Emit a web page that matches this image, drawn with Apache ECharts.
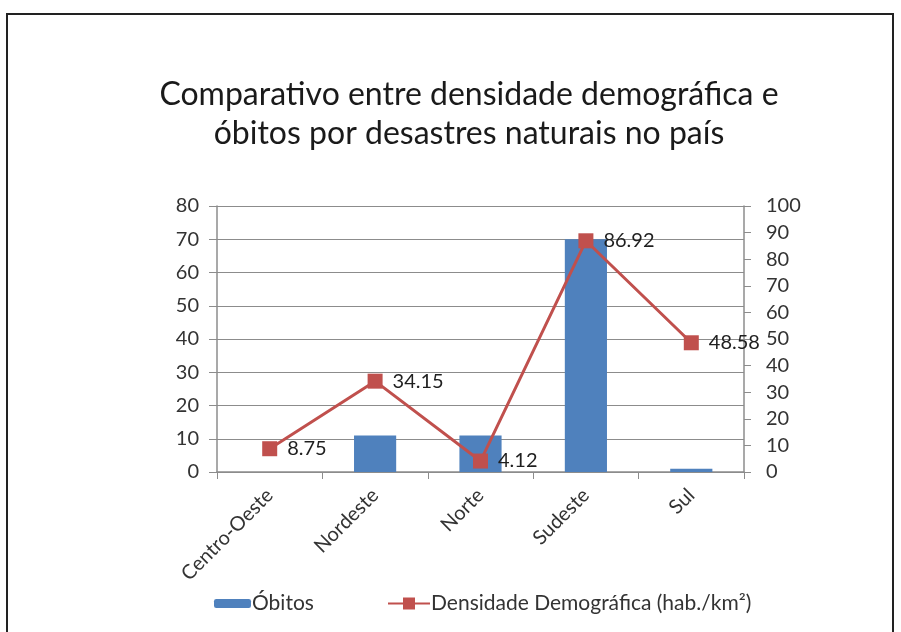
<!DOCTYPE html>
<html>
<head>
<meta charset="utf-8">
<script src="https://cdn.jsdelivr.net/npm/echarts@6/dist/echarts.min.js"></script>
<style>
  html, body { margin: 0; padding: 0; background: #fff; }
  #chart { width: 901px; height: 632px; }
</style>
</head>
<body>
<div id="chart"></div>
<script>
// Regions of the country
const regioes = ['Centro-Oeste', 'Nordeste', 'Norte', 'Sudeste', 'Sul'];
// Deaths from natural disasters per region
const obitos = [0, 11, 11, 70, 1];
// Population density (inhabitants per km²)
const densidade = [8.75, 34.15, 4.12, 86.92, 48.58];

const FONT = 'Lato, "Noto Sans", sans-serif';
const TXT = '#333333';
const GRID = '#8c8c8c';

const chart = echarts.init(document.getElementById('chart'));
chart.setOption({
  backgroundColor: '#ffffff',
  animation: false,
  textStyle: { fontFamily: FONT },
  title: {
    text: 'Comparativo entre densidade demográfica e\nóbitos por desastres naturais no país',
    left: 464,
    top: 70,
    textAlign: 'center',
    textStyle: { fontFamily: FONT, fontSize: 32, fontWeight: 'normal', color: '#1a1a1a', lineHeight: 39 }
  },
  graphic: [{
    type: 'rect',
    shape: { x: 7, y: 14, width: 886, height: 640 },
    style: { fill: 'none', stroke: '#222', lineWidth: 2 }
  }],
  legend: [{
    data: ['Óbitos'],
    left: 214, top: 593, padding: 0,
    itemWidth: 37, itemHeight: 9,
    textStyle: { fontFamily: FONT, fontSize: 21, color: TXT, padding: [0, 0, 0, -4] }
  }, {
    data: ['Densidade Demográfica (hab./km²)'],
    left: 387, top: 593, padding: 0,
    itemWidth: 42, itemHeight: 15,
    textStyle: { fontFamily: FONT, fontSize: 21, color: TXT, padding: [0, 0, 0, -4] }
  }],
  grid: { left: 217, right: 157, top: 206, bottom: 160, containLabel: false },
  xAxis: {
    type: 'category',
    data: regioes,
    axisLine: { lineStyle: { color: GRID, width: 1.5 } },
    axisTick: { show: true, alignWithLabel: false, length: 7, lineStyle: { color: GRID } },
    axisLabel: { rotate: 45, color: TXT, fontSize: 20, fontFamily: FONT, margin: 20, interval: 0 }
  },
  yAxis: [{
    type: 'value',
    min: 0, max: 80, interval: 10,
    axisLine: { show: true, lineStyle: { color: GRID, width: 1.5 } },
    axisTick: { show: true, length: 8, lineStyle: { color: GRID } },
    splitLine: { lineStyle: { color: GRID, width: 1.2 } },
    axisLabel: { color: TXT, fontSize: 20, fontFamily: FONT, margin: 18 }
  }, {
    type: 'value',
    min: 0, max: 100, interval: 10,
    position: 'right',
    axisLine: { show: true, lineStyle: { color: GRID, width: 1.5 } },
    axisTick: { show: true, length: 7, lineStyle: { color: GRID } },
    splitLine: { show: false },
    axisLabel: { color: TXT, fontSize: 20, fontFamily: FONT, margin: 22 }
  }],
  series: [{
    name: 'Óbitos',
    type: 'bar',
    data: obitos,
    yAxisIndex: 0,
    barWidth: '40%',
    itemStyle: { color: '#4f81bd' }
  }, {
    name: 'Densidade Demográfica (hab./km²)',
    type: 'line',
    data: densidade,
    yAxisIndex: 1,
    symbol: 'rect',
    symbolSize: 15,
    lineStyle: { color: '#c0504d', width: 3 },
    itemStyle: { color: '#c0504d' },
    label: {
      show: true, position: 'right', distance: 10,
      color: '#1f1f1f', fontSize: 20, fontFamily: FONT
    }
  }]
});
</script>
</body>
</html>
